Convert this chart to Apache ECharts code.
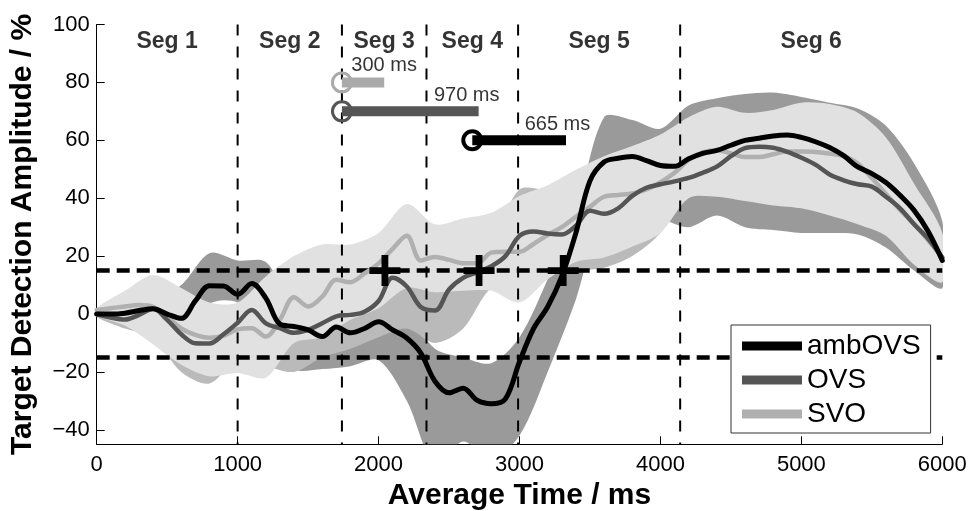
<!DOCTYPE html>
<html>
<head>
<meta charset="utf-8">
<script src="https://cdn.jsdelivr.net/npm/echarts@6/dist/echarts.min.js"></script>
<style>
  html, body { margin: 0; padding: 0; background: #fff; }
  #chart { width: 970px; height: 511px; }
</style>
</head>
<body>
<div id="chart"></div>
<script>
// ---- data ----
const lineTimes = [0, 100, 200, 300, 400, 500, 600, 700, 800, 900, 1000, 1100, 1200, 1300, 1400, 1500, 1600, 1700, 1800, 1900,
  2000, 2100, 2200, 2300, 2400, 2500, 2600, 2700, 2800, 2900, 3000, 3100, 3200, 3300, 3400, 3500, 3600, 3700, 3800, 3900,
  4000, 4100, 4200, 4300, 4400, 4500, 4600, 4700, 4800, 4900, 5000, 5100, 5200, 5300, 5400, 5500, 5600, 5700, 5800, 5900, 6000];

const ambOVS = [0, 0, 0.3, 1.2, 1.8, 0, -1.5, 4.5, 9.8, 9.7, 6.8, 10.5, 5.5, -3.5, -4.3, -5.5, -7.8, -4.5, -6.5, -5,
  -2.7, -5.5, -8.3, -13.5, -23.2, -27.2, -25.6, -29.8, -31, -29.3, -16.5, -5, 2.5, 13, 28, 46, 52.5, 53.8, 54.4, 53,
  51.3, 51, 53.6, 55.5, 56.5, 58.3, 60, 60.7, 61.5, 61.8, 61, 59.5, 57.5, 54.7, 50.8, 48.5, 45.4, 41, 35.8, 28.5, 18.5];

const OVS = [0, -1.2, -1.9, -0.3, 1.8, -2, -7, -10.1, -10.2, -7, -3, 1.4, -3.2, -4.9, -6.5, -5.5, -3.2, -0.8, -0.3, 0.8,
  4.5, 12.5, 9.5, 2.4, 1.2, 8.5, 12.5, 14.4, 16.5, 20, 27, 28.5, 27.8, 27.5, 30.5, 35.7, 34.6, 36.5, 40.8, 43.6,
  44.8, 45.8, 47, 48.8, 50.9, 54.5, 57.3, 57.8, 57.4, 56, 54, 51.6, 48.2, 46.2, 44.8, 44, 40.5, 36.5, 31, 26, 19.5];

const SVO = [1.4, 2, 2.6, 3.1, 2.5, -1, -5, -7.2, -8.2, -7.5, -5.3, -4.9, -7.8, -2, 5.8, 2.6, 6, 11.8, 11, 14,
  17.5, 22.5, 27, 18.5, 19.7, 18.7, 17.5, 17.5, 21.2, 21.5, 21.5, 24.2, 27.3, 30, 33.6, 37, 40.5, 41.1, 41.6, 43,
  45.5, 48.8, 53.2, 55.8, 56.6, 55.5, 54.2, 54.2, 55.2, 56.1, 56.1, 56, 55.4, 54.5, 52, 47, 41.5, 36, 31, 25.5, 19.5];

// confidence bands
const bandTimes = [0, 200, 400, 600, 800, 1000, 1200, 1400, 1600, 1800, 2000, 2200, 2400, 2600, 2800, 3000,
  3200, 3400, 3600, 3800, 4000, 4200, 4400, 4600, 4800, 5000, 5200, 5400, 5600, 5800, 6000];

const ambUpper = [1, 3, 5, 10, 21, 18.5, 18, 3, 1, 2, 4, 0, -12, -15, -17, -8,
  12, 35, 68, 67, 64, 72, 74.5, 76, 76.5, 75, 73, 71, 65, 52, 32];
const ambLower = [-1, -3, -6, -9, 3.5, 4, -6, -19, -19, -18, -16, -30, -52, -44, -50, -42,
  -20, 5, 36, 36, 33, 30, 34, 30, 29, 28, 28, 27.5, 23, 15, 9];

const ovsUpper = [1, 2, 6, 5, 3, 3, 8, 6, 10, 12, 18, 22, 14, 24, 26, 43,
  43, 46, 50, 55, 58, 60, 60, 64, 66, 65, 63, 60, 54, 42, 25];
const ovsLower = [-1, -5, -8, -20, -24, -16, -18, -20, -15, -12, -8, -5, -10, -5, 9, 10,
  14, 15, 16, 20, 28, 42, 44, 44, 42, 40, 38, 33, 29, 21, 13];

const svoUpper = [2, 8, 13.5, 9, 4, 4, 13, 20, 24, 24, 28, 38, 31, 33, 35, 40.8,
  44.5, 49.8, 54.5, 58, 62, 68, 71.6, 69.5, 70.5, 73, 72.5, 69.5, 61, 45, 28];
const svoLower = [-0.5, -4, -10.5, -17.5, -21.5, -20.4, -22, -10, -8, -2, 2, 9, 7.5, 8, 8, 4,
  12, 18, 19.5, 23.3, 28, 40, 40.5, 39, 37.5, 36.5, 34, 31, 27, 17, 11];

// segments, thresholds, onsets
const segBounds = [1000, 1740, 2340, 2990, 4140];
const segNames = ['Seg 1', 'Seg 2', 'Seg 3', 'Seg 4', 'Seg 5', 'Seg 6'];
const thresholds = [15, -15];
const crossings = [2045, 2713, 3310];
const durOnsets = [1740, 1740, 2665];
const durLengths = [300, 970, 665];
const durLevels = [80, 70, 60];

// ---- layout / style ----
const FONT = 'Liberation Sans, Arial, Helvetica, sans-serif';
const X_MIN = 0, X_MAX = 6000, Y_MIN = -45, Y_MAX = 100;
const segLabelY = 94.2;
const durLabelPos = [[1803, 85.7], [2389, 75.6], [3033, 65.6]];
const durColors = ['#aaaaaa', '#555555', '#000000'];
const durRing = [[19, 3], [19, 3], [18, 4]];

const pair = (xs, ys) => xs.map((x, i) => [x, ys[i]]);

function bandSeries(name, upper, lower, color) {
  return {
    type: 'custom',
    name: name + ' band',
    silent: true,
    clip: true,
    data: [[X_MIN, 0]],
    renderItem: function (params, api) {
      const pts = [];
      for (let i = 0; i < bandTimes.length; i++) pts.push(api.coord([bandTimes[i], upper[i]]));
      for (let i = bandTimes.length - 1; i >= 0; i--) pts.push(api.coord([bandTimes[i], lower[i]]));
      return {
        type: 'polygon',
        shape: { points: pts, smooth: 0.3 },
        style: { fill: color, stroke: null }
      };
    }
  };
}

function plainLine(data, style, z) {
  return {
    type: 'line',
    silent: true,
    showSymbol: false,
    symbol: 'none',
    data: data,
    lineStyle: style,
    z: z || 2
  };
}

function dataLine(name, values, color, width) {
  return {
    type: 'line',
    name: name,
    data: pair(lineTimes, values),
    smooth: 0.35,
    showSymbol: false,
    symbol: 'none',
    silent: true,
    lineStyle: { color: color, width: width, cap: 'round', join: 'round' },
    itemStyle: { color: color },
    z: 3
  };
}

const series = [];
series.push(bandSeries('ambOVS', ambUpper, ambLower, '#9a9a9a'));
series.push(bandSeries('OVS', ovsUpper, ovsLower, '#bababa'));
series.push(bandSeries('SVO', svoUpper, svoLower, '#e1e1e1'));

thresholds.forEach(function (t) {
  series.push(plainLine([[X_MIN, t], [X_MAX, t]], { color: '#000', width: 4.5, type: [13, 7] }));
});
segBounds.forEach(function (b) {
  series.push(plainLine([[b, Y_MAX], [b, Y_MIN]], { color: '#000', width: 2, type: [11, 11] }));
});

series.push(dataLine('SVO', SVO, '#b0b0b0', 4.5));
series.push(dataLine('OVS', OVS, '#555555', 4.5));
series.push(dataLine('ambOVS', ambOVS, '#000000', 5));

series.push({
  type: 'scatter',
  silent: true,
  data: crossings.map(function (c) { return [c, thresholds[0]]; }),
  symbol: 'path://M12.5,0H19.5V12.5H32V19.5H19.5V32H12.5V19.5H0V12.5H12.5Z',
  symbolSize: 31,
  itemStyle: { color: '#000', opacity: 1 },
  z: 4
});

durOnsets.forEach(function (on, i) {
  series.push(plainLine([[on, durLevels[i]], [on + durLengths[i], durLevels[i]]],
    { color: durColors[i], width: 10, cap: 'butt' }, 4));
  series.push({
    type: 'scatter',
    silent: true,
    data: [[on, durLevels[i]]],
    symbol: 'circle',
    symbolSize: durRing[i][0],
    itemStyle: { color: 'rgba(0,0,0,0)', borderColor: durColors[i], borderWidth: durRing[i][1], opacity: 1 },
    z: 5
  });
});

const segEdges = [X_MIN].concat(segBounds, [X_MAX]);
series.push({
  type: 'scatter',
  silent: true,
  symbolSize: 1,
  itemStyle: { color: 'rgba(0,0,0,0)' },
  data: segNames.map(function (n, i) {
    return { name: n, value: [(segEdges[i] + segEdges[i + 1]) / 2, segLabelY] };
  }),
  label: {
    show: true, position: 'inside', formatter: '{b}',
    color: '#000', fontFamily: FONT, fontSize: 23, fontWeight: 'bold'
  },
  z: 6
});

series.push({
  type: 'scatter',
  silent: true,
  symbolSize: 1,
  itemStyle: { color: 'rgba(0,0,0,0)' },
  data: durLengths.map(function (d, i) {
    return { name: d + ' ms', value: durLabelPos[i] };
  }),
  label: {
    show: true, position: 'right', distance: 0, formatter: '{b}',
    color: '#000', fontFamily: FONT, fontSize: 20
  },
  z: 6
});

const yTicks = [-40, -20, 0, 20, 40, 60, 80, 100];

const chart = echarts.init(document.getElementById('chart'), null, { renderer: 'canvas' });
chart.setOption({
  animation: false,
  backgroundColor: '#fff',
  grid: { left: 96.7, right: 27.7, top: 24.5, bottom: 66.7, outerBoundsMode: 'none', containLabel: false },
  legend: {
    data: ['ambOVS', 'OVS', 'SVO'],
    orient: 'vertical',
    left: 731, top: 325,
    icon: 'rect',
    itemWidth: 60, itemHeight: 9,
    itemGap: 6,
    padding: [7, 10, 5, 11],
    backgroundColor: '#fff',
    borderColor: '#333', borderWidth: 1, borderRadius: 0,
    selectedMode: false,
    textStyle: { fontFamily: FONT, fontSize: 28, color: '#000', lineHeight: 28 }
  },
  xAxis: {
    type: 'value',
    min: X_MIN, max: X_MAX, interval: 1000,
    name: 'Average Time / ms',
    nameLocation: 'middle',
    nameGap: 34,
    nameTextStyle: { fontFamily: FONT, fontSize: 30, fontWeight: 'bold', color: '#000' },
    axisLine: { show: true, onZero: false, lineStyle: { color: '#000', width: 1 } },
    axisTick: { show: true, inside: true, length: 8, lineStyle: { color: '#000' } },
    axisLabel: {
      fontFamily: FONT, fontSize: 22, color: '#000', margin: 10,
      formatter: function (v) { return String(v); }
    },
    splitLine: { show: false }
  },
  yAxis: {
    type: 'value',
    min: Y_MIN, max: Y_MAX,
    name: 'Target Detection Amplitude / %',
    nameLocation: 'middle',
    nameGap: 59,
    nameTextStyle: { fontFamily: FONT, fontSize: 30, fontWeight: 'bold', color: '#000' },
    axisLine: { show: true, onZero: false, lineStyle: { color: '#000', width: 1 } },
    axisTick: { show: true, inside: true, length: 8, customValues: yTicks, lineStyle: { color: '#000' } },
    axisLabel: {
      fontFamily: FONT, fontSize: 22, color: '#000', margin: 7,
      customValues: yTicks,
      formatter: function (v) { return String(v).replace('-', '\u2212'); }
    },
    splitLine: { show: false }
  },
  series: series
});
</script>
</body>
</html>
